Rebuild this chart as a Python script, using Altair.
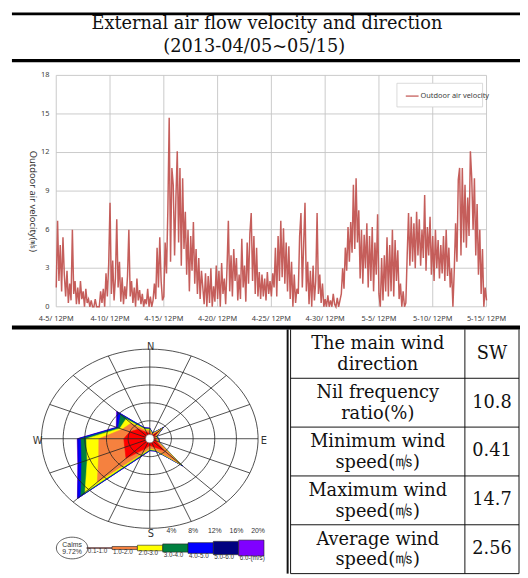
import numpy as np
import pandas as pd
import altair as alt

# ---------------- data ----------------
title_lines = ["External air flow velocity and direction", "(2013-04/05~05/15)"]

# Outdoor air velocity (m/s), 3-hourly from 4-5 12PM
velocity = [
    1.5, 6.7, 2.0, 4.8, 1.2, 5.4, 2.5, 0.8,
    2.8, 0.3, 1.8, 0.5, 6.0, 1.0, 2.0, 0.2,
    1.5, 0.2, 2.0, 0.6, 1.2, 0.0, 1.4, 0.3,
    0.6, 0.0, 0.5, 0.0, 0.0, 0.6, 0.0, 0.0,
    0.0, 1.2, 0.3, 1.4, 0.0, 2.6, 0.8, 3.3,
    8.1, 1.0, 3.6, 0.5, 2.2, 6.8, 1.5, 3.5,
    0.4, 2.3, 0.2, 1.6, 0.6, 2.4, 6.0, 0.8,
    2.0, 0.3, 1.5, 0.0, 2.2, 0.5, 1.3, 0.2,
    1.0, 0.0, 0.6, 0.2, 1.4, 0.0, 0.8, 0.0,
    0.5, 1.8, 0.6, 4.6, 1.5, 5.4, 2.0, 0.5,
    0.8, 5.0, 2.6, 7.5, 14.7, 3.5, 10.8, 9.5,
    4.0, 8.5, 12.1, 5.0, 10.8, 3.2, 10.0, 4.5,
    7.4, 2.5, 6.0, 1.2, 5.5, 2.8, 6.6, 1.8,
    4.5, 1.0, 3.8, 0.6, 2.8, 1.5, 0.2, 2.6,
    0.0, 2.4, 0.3, 3.0, 0.0, 1.6, 0.4, 3.2,
    0.6, 2.8, 0.0, 3.4, 1.0, 2.2, 0.2, 3.0,
    6.7, 1.2, 4.0, 0.8, 4.5, 2.0, 3.8, 0.5,
    2.5, 0.6, 5.3, 1.5, 3.2, 0.4, 5.0, 1.8,
    5.7, 7.3, 2.0, 5.5, 1.0, 4.6, 0.8, 2.7,
    0.6, 2.5, 0.8, 2.2, 0.5, 2.7, 1.0, 2.0,
    0.8, 2.6, 1.5, 4.6, 0.8, 5.5, 2.0, 6.7,
    2.3, 6.1, 1.8, 5.0, 1.2, 4.7, 0.6, 3.5,
    0.0, 2.5, 0.3, 1.4, 1.0, 5.5, 7.3, 1.5,
    4.8, 8.1, 1.2, 3.5, 0.2, 2.8, 0.0, 3.2,
    0.5, 2.0, 7.3, 1.0, 2.5, 0.3, 1.8, 0.0,
    0.6, 0.0, 0.9, 0.0, 0.5, 0.0, 1.0, 0.2,
    0.0, 0.7, 0.0, 0.5, 1.0, 3.0, 1.4, 4.6,
    2.8, 6.2, 3.5, 6.6, 4.2, 9.5, 4.5, 10.0,
    5.0, 7.5, 2.2, 6.0, 1.8, 5.6, 3.0, 6.5,
    1.5, 5.5, 2.0, 6.2, 1.2, 5.0, 2.5, 7.2,
    1.0, 0.0, 3.8, 0.5, 4.0, 1.2, 5.4, 0.8,
    4.8, 1.2, 6.0, 0.8, 5.2, 2.0, 4.4, 0.6,
    1.8, 0.0, 1.2, 0.0, 0.3, 4.0, 7.3, 3.2,
    7.0, 3.5, 6.5, 3.0, 7.4, 4.0, 6.8, 3.2,
    6.0, 3.8, 8.7, 2.8, 6.2, 4.0, 7.0, 2.5,
    5.5, 2.0, 6.0, 3.0, 5.2, 2.2, 4.8, 2.6,
    5.5, 2.0, 6.0, 2.4, 4.6, 1.5, 3.0, 0.0,
    2.8, 6.5, 3.5, 9.9, 10.8, 4.0, 10.8, 5.0,
    9.5, 4.6, 8.5, 5.5, 12.1, 10.0, 6.0, 10.0,
    4.0, 8.0, 2.5, 6.0, 1.0, 4.5, 0.0, 1.5,
    0.5,
]
y_ticks = [0, 3, 6, 9, 12, 15, 18]
x_tick_days = [0, 5, 10, 15, 20, 25, 30, 35, 40]
x_tick_labels = ["4-5/ 12PM", "4-10/ 12PM", "4-15/ 12PM", "4-20/ 12PM", "4-25/ 12PM",
                 "4-30/ 12PM", "5-5/ 12PM", "5-10/ 12PM", "5-15/ 12PM"]
y_title = "Outdoor air velocity(㎧)"
series_name = "Outdoor air velocity"

# Wind rose: frequency (%) per direction for each speed class
directions = ["N", "NNE", "NE", "ENE", "E", "ESE", "SE", "SSE",
              "S", "SSW", "SW", "WSW", "W", "WNW", "NW", "NNW"]
class_labels = ["0.1-1.0", "1.0-2.0", "2.0-3.0", "3.0-4.0", "4.0-5.0", "5.0-6.0", "6.0-(m/s)"]
class_colors = ["#FF0000", "#F5813F", "#FFFF00", "#00803F", "#0000FF", "#000080", "#8000FF"]
freq_0_1 = [1.2, 0.8, 2.0, 0.8, 1.0, 1.2, 3.7, 2.0, 1.5, 2.5, 6.2, 5.0, 4.8, 4.0, 3.0, 1.5]
freq_1_2 = [0.6, 0.3, 1.0, 0.3, 0.4, 0.4, 4.2, 0.6, 0.7, 1.0, 7.5, 5.2, 4.6, 1.5, 1.9, 0.5]
freq_2_3 = [0.3, 0.1, 0.3, 0.1, 0.1, 0.1, 0.3, 0.2, 0.2, 0.4, 3.2, 2.3, 2.3, 0.5, 1.3, 0.3]
freq_3_4 = [0.1, 0.1, 0.1, 0.1, 0.1, 0.1, 0.2, 0.1, 0.1, 0.2, 1.1, 1.1, 1.0, 0.3, 1.4, 0.2]
freq_4_5 = [0.1, 0.05, 0.1, 0.05, 0.05, 0.05, 0.1, 0.1, 0.1, 0.2, 0.7, 0.6, 0.5, 0.2, 0.7, 0.1]
freq_5_6 = [0.05, 0.05, 0.05, 0.05, 0.05, 0.05, 0.05, 0.0, 0.05, 0.05, 0.1, 0.1, 0.1, 0.1, 0.2, 0.05]
freq_6p = [0.05, 0.0, 0.05, 0.0, 0.0, 0.0, 0.05, 0.0, 0.05, 0.05, 0.1, 0.1, 0.1, 0.1, 0.2, 0.05]
calms_text = ["Calms", "9.72%"]
ring_values = [4, 8, 12, 16, 20]
compass = ["N", "E", "S", "W"]

# Summary table
table_labels = ["The main wind\ndirection", "Nil frequency\nratio(%)", "Minimum wind\nspeed(㎧)",
                "Maximum wind\nspeed(㎧)", "Average wind\nspeed(㎧)"]
table_values = ["SW", "10.8", "0.41", "14.7", "2.56"]

# ---------------- layout / style ----------------
W, H = 520, 570
SERIF = "DejaVu Serif"
SANS = "Noto Sans"
LINE_COLOR = "#C0504D"
GRID = "#C4C4C4"


def scl(dom, rng):
    return alt.Scale(domain=dom, range=rng, nice=False, zero=False)


def X(field, dom, rng, t="quantitative"):
    return alt.X(field, type=t, scale=scl(dom, rng), axis=None)


def Y(field, dom, rng, t="quantitative"):
    return alt.Y(field, type=t, scale=scl(dom, rng), axis=None)


layers = []

# ---- title block ----
rules_df = pd.DataFrame({"k": [0]})
layers.append(alt.Chart(rules_df).mark_rule(color="black", strokeWidth=3).encode(
    x=alt.value(4), x2=alt.value(520), y=alt.value(1.5)))
layers.append(alt.Chart(rules_df).mark_rule(color="black", strokeWidth=3.5).encode(
    x=alt.value(4), x2=alt.value(520), y=alt.value(49)))
layers.append(alt.Chart(rules_df).mark_rule(color="black", strokeWidth=4).encode(
    x=alt.value(4), x2=alt.value(520), y=alt.value(320)))
title_df = pd.DataFrame({"t": title_lines, "line": [0, 1]})
layers.append(alt.Chart(title_df).mark_text(font=SERIF, fontSize=18, color="#111",
                                            baseline="alphabetic").encode(
    text="t:N",
    x=X("line", [0, 1], [263, 250]),
    y=Y("line", [0, 1], [17, 40.5])))

# ---- time series ----
TX = ([0, 40], [49, 486])
TY = ([0, 18], [299, 64])
ts = pd.DataFrame({"day": np.arange(len(velocity)) / 8.0, "v": velocity})
hgrid = pd.DataFrame({"v": y_ticks, "d0": 0, "d1": 40})
vgrid = pd.DataFrame({"d": x_tick_days, "lab": x_tick_labels, "v0": 0, "v1": 18})

layers.append(alt.Chart(hgrid).mark_rule(color=GRID, strokeWidth=0.9).encode(
    x=X("d0", *TX), x2="d1", y=Y("v", *TY)))
layers.append(alt.Chart(vgrid).mark_rule(color=GRID, strokeWidth=0.9).encode(
    x=X("d", *TX), y=Y("v0", *TY), y2="v1"))
layers.append(alt.Chart(ts).mark_line(color=LINE_COLOR, strokeWidth=1.5, opacity=0.92).encode(
    x=X("day", *TX), y=Y("v", *TY)))
layers.append(alt.Chart(hgrid).mark_text(font=SANS, fontSize=7.5, color="#404040",
                                         align="right", baseline="middle", dx=-7).encode(
    text="v:Q", x=X("d0", *TX), y=Y("v", *TY)))
layers.append(alt.Chart(vgrid).mark_text(font=SANS, fontSize=7.5, color="#404040",
                                         align="center", baseline="middle", dy=12).encode(
    text="lab:N", x=X("d", *TX), y=Y("v0", *TY)))
layers.append(alt.Chart(pd.DataFrame({"t": [y_title]})).mark_text(
    font=SANS, fontSize=9.5, color="#333", angle=90, align="center", baseline="middle").encode(
    text="t:N", x=alt.value(25), y=alt.value(192)))
# legend box
layers.append(alt.Chart(rules_df).mark_rect(fill="white", stroke="#D0D0D0", strokeWidth=0.8).encode(
    x=alt.value(395), x2=alt.value(482), y=alt.value(72), y2=alt.value(96)))
layers.append(alt.Chart(rules_df).mark_rule(color=LINE_COLOR, strokeWidth=1.2).encode(
    x=alt.value(404), x2=alt.value(417), y=alt.value(85)))
layers.append(alt.Chart(pd.DataFrame({"t": [series_name]})).mark_text(
    font=SANS, fontSize=7.5, color="#404040", align="left", baseline="middle").encode(
    text="t:N", x=alt.value(419), y=alt.value(85)))

# ---- wind rose ----
RX = ([-20, 20], [34, 254])
RY = ([-20, 20], [524, 342])
freqs = [freq_0_1, freq_1_2, freq_2_3, freq_3_4, freq_4_5, freq_5_6, freq_6p]
theta = np.deg2rad(np.arange(16) * 22.5)
rows = []
cum = np.zeros(16)
for k, f in enumerate(freqs):
    cum = cum + np.array(f)
    for i in range(16):
        rows.append({"cls": k, "dir": directions[i], "i": i, "cum": cum[i],
                     "x": cum[i] * np.sin(theta[i]), "y": cum[i] * np.cos(theta[i])})
rose = pd.DataFrame(rows)
for k in range(6, -1, -1):
    layers.append(alt.Chart(rose).transform_filter(alt.datum.cls == k).mark_line(
        interpolate="linear-closed", fill=class_colors[k], stroke=class_colors[k],
        strokeWidth=0.6).encode(
        x=X("x", *RX), y=Y("y", *RY), order="i:Q"))

# rings
ang = np.deg2rad(np.arange(0, 361, 4))
ring_rows = []
for r in ring_values:
    for j, a in enumerate(ang):
        ring_rows.append({"r": r, "j": j, "x": r * np.sin(a), "y": r * np.cos(a)})
rings = pd.DataFrame(ring_rows)
layers.append(alt.Chart(rings).mark_line(color="#222", strokeWidth=0.8).encode(
    x=X("x", *RX), y=Y("y", *RY), detail="r:N", order="j:Q"))
spokes = pd.DataFrame({"x0": 0.0, "y0": 0.0,
                       "x1": 20 * np.sin(theta), "y1": 20 * np.cos(theta)})
layers.append(alt.Chart(spokes).mark_rule(color="#222", strokeWidth=0.8).encode(
    x=X("x0", *RX), y=Y("y0", *RY), x2="x1", y2="y1"))
layers.append(alt.Chart(pd.DataFrame({"x": [0.0], "y": [0.0]})).mark_point(
    filled=True, fill="white", stroke="#777", strokeWidth=0.6, size=70, opacity=1).encode(
    x=X("x", *RX), y=Y("y", *RY)))
comp_ang = np.deg2rad([0, 90, 180, 270])
comp_df = pd.DataFrame({"t": compass, "x": 20.9 * np.sin(comp_ang), "y": 20.9 * np.cos(comp_ang)})
layers.append(alt.Chart(comp_df).mark_text(font="DejaVu Sans", fontSize=10, color="#333",
                                           baseline="middle", dy=2, dx=1).encode(
    text="t:N", x=X("x", *RX), y=Y("y", *RY)))
ring_lab = pd.DataFrame({"r": ring_values, "t": [f"{v}%" for v in ring_values], "y": -20.6})
layers.append(alt.Chart(ring_lab).mark_text(font="Liberation Sans", fontSize=7, color="#333",
                                            baseline="middle").encode(
    text="t:N", x=X("r", *RX), y=Y("y", *RY)))

# rose legend
LX = ([0, 7], [80, 260])
LY = ([-10, 10], [554, 534])
leg = pd.DataFrame({"i": range(7), "lab": class_labels, "col": class_colors})
leg["x1"] = leg["i"] + 1
leg["h"] = 0.25 + 1.3 * leg["i"]
leg["nh"] = -leg["h"]
layers.append(alt.Chart(leg).mark_rect(stroke="#222", strokeWidth=0.6).encode(
    x=X("i", *LX), x2="x1", y=Y("nh", *LY), y2="h",
    fill=alt.Fill("col:N", scale=None)))
layers.append(alt.Chart(leg).mark_text(font="Liberation Sans", fontSize=6.4, color="#333",
                                       align="left", baseline="top", dx=1, dy=-0.5).encode(
    text="lab:N", x=X("i", *LX), y=Y("nh", *LY)))
ell_t = np.deg2rad(np.arange(0, 361, 6))
ell = pd.DataFrame({"j": range(len(ell_t)),
                    "x": -0.58 + 0.62 * np.cos(ell_t), "y": 11 * np.sin(ell_t)})
layers.append(alt.Chart(ell).mark_line(color="#333", strokeWidth=0.8).encode(
    x=X("x", *LX), y=Y("y", *LY), order="j:Q"))
calm_df = pd.DataFrame({"t": calms_text, "x": -0.58, "y": [3.2, -3.6]})
layers.append(alt.Chart(calm_df).mark_text(font="Liberation Sans", fontSize=7, color="#333",
                                           baseline="middle").encode(
    text="t:N", x=X("x", *LX), y=Y("y", *LY)))

# ---- table ----
TBX = ([0, 1], [287, 519])
TBY = ([0, 5], [322, 570])
hl = pd.DataFrame({"r": [1, 2, 3, 4, 5], "x0": 0, "x1": 1})
layers.append(alt.Chart(hl).mark_rule(color="#111", strokeWidth=1).encode(
    x=X("x0", *TBX), x2="x1", y=Y("r", *TBY)))
vl = pd.DataFrame({"c": [0.0, 0.763, 1.0], "r0": 0, "r1": 5})
layers.append(alt.Chart(vl).mark_rule(color="#111", strokeWidth=1).encode(
    x=X("c", *TBX), y=Y("r0", *TBY), y2="r1"))
layers.append(alt.Chart(rules_df).mark_rule(color="#111", strokeWidth=2).encode(
    x=alt.value(284), y=alt.value(322), y2=alt.value(570)))
tab = pd.DataFrame({"lab": table_labels, "val": table_values})
tab["r"] = np.arange(len(tab)) + 0.5
tab["cl"] = 0.3815
tab["cv"] = 0.8815
layers.append(alt.Chart(tab).mark_text(font=SERIF, fontSize=18, color="#111", lineBreak="\n",
                                       lineHeight=21, baseline="middle", dy=-9.5).encode(
    text="lab:N", x=X("cl", *TBX), y=Y("r", *TBY)))
layers.append(alt.Chart(tab).mark_text(font=SERIF, fontSize=18, color="#111",
                                       baseline="middle").encode(
    text="val:N", x=X("cv", *TBX), y=Y("r", *TBY)))

chart = alt.layer(*layers).resolve_scale(
    x="independent", y="independent", fill="independent"
).properties(
    width=W, height=H, padding=0, background="white",
    autosize=alt.AutoSizeParams(type="none"),
).configure_view(stroke=None)

chart.save("out.html", embed_options={"renderer": "svg", "actions": False})
